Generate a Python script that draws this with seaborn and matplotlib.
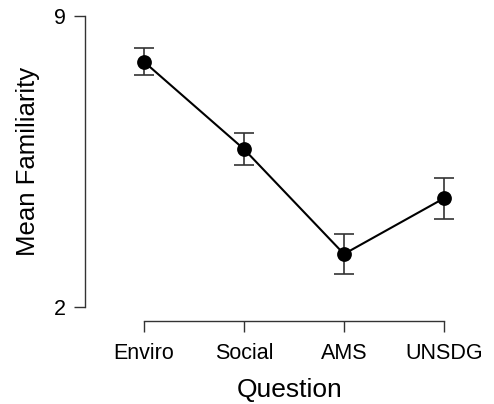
import numpy as np
import pandas as pd
import matplotlib
matplotlib.use("Agg")
import matplotlib.pyplot as plt
import seaborn as sns

sns.set_theme(style="ticks")
plt.rcParams['font.family'] = ['Liberation Sans', 'DejaVu Sans']
plt.rcParams['text.color'] = 'black'
plt.rcParams['axes.labelcolor'] = 'black'
plt.rcParams['xtick.labelcolor'] = 'black'
plt.rcParams['ytick.labelcolor'] = 'black'

categories = ["Enviro", "Social", "AMS", "UNSDG"]
means = [7.90, 5.80, 3.28, 4.62]
errors = [0.32, 0.38, 0.47, 0.49]

df = pd.DataFrame({"Question": categories, "Mean": means})

fig = plt.figure(figsize=(4.94, 4.04), dpi=100)
ax = fig.add_axes([100 / 494, 1 - 312 / 404, 380 / 494, 302 / 404])

sns.pointplot(data=df, x="Question", y="Mean", errorbar=None, color="black",
              markers="o", markersize=9.5, linewidth=1.5, ax=ax)
pos = np.arange(len(categories))
ax.errorbar(pos, means, yerr=errors, fmt="none", ecolor="#333333",
            elinewidth=1.2, capsize=7.2, capthick=1.2, zorder=1)

ax.set_xlim(-0.44, 3.36)
ax.set_ylim(2 - 4.7 / 41.61, 9 + 6 / 41.61)
ax.set_yticks([2, 9])
ax.set_xticks(pos)
ax.set_xticklabels(categories)

for side in ["top", "right"]:
    ax.spines[side].set_visible(False)
ax.spines["left"].set_position(("outward", 10.8))
ax.spines["bottom"].set_position(("outward", 6.5))
ax.spines["left"].set_bounds(2, 9)
ax.spines["bottom"].set_bounds(0, 3)
for side in ["left", "bottom"]:
    ax.spines[side].set_color("#333333")
    ax.spines[side].set_linewidth(1.0)

ax.tick_params(axis="both", labelsize=15.5, length=8, width=1.0,
               color="#333333", pad=6)
ax.tick_params(axis="x", pad=8)
ax.set_xlabel("Question", fontsize=19, labelpad=10)
ax.set_ylabel("Mean Familiarity", fontsize=18.5, labelpad=10)

fig.savefig("out.png", dpi=100)
